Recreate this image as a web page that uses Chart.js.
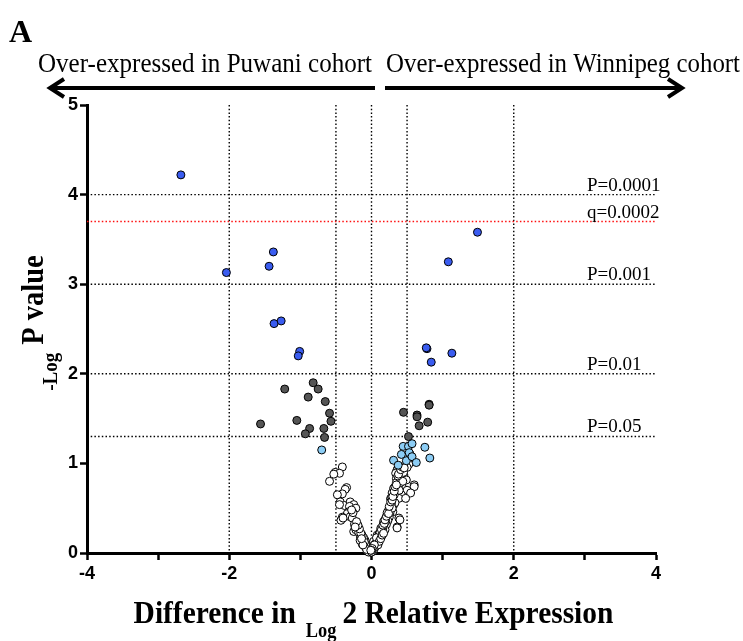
<!DOCTYPE html>
<html>
<head>
<meta charset="utf-8">
<script src="https://cdn.jsdelivr.net/npm/chart.js@4.4.1/dist/chart.umd.min.js"></script>
<style>
  html, body { margin: 0; padding: 0; background: #fff; }
  #wrap { position: relative; width: 743px; height: 641px; }
</style>
</head>
<body>
<div id="wrap"><canvas id="volcano"></canvas></div>
<script>
// [difference in log2 expression, -log10 P]
// significant after FDR (blue)
const qSigPoints = [
    [-2.68, 4.22], [-2.04, 3.13], [-1.38, 3.36], [-1.44, 3.20], [-1.37, 2.56],
    [-1.27, 2.59], [-1.01, 2.25], [-1.03, 2.20],
    [1.49, 3.58], [1.08, 3.25], [0.78, 2.28], [0.77, 2.29], [1.13, 2.23], [0.84, 2.13]
];
// P < 0.05 (dark grey)
const pSigPoints = [
    [-0.82, 1.90], [-0.75, 1.83], [-1.22, 1.83], [-0.89, 1.74], [-0.65, 1.69],
    [-0.59, 1.56], [-0.57, 1.47], [-1.05, 1.48], [-1.56, 1.44], [-0.87, 1.39],
    [-0.67, 1.39], [-0.93, 1.33], [-0.66, 1.29],
    [0.81, 1.66], [0.81, 1.65], [0.45, 1.57], [0.64, 1.54], [0.64, 1.52],
    [0.79, 1.46], [0.67, 1.42], [0.52, 1.30]
];
// 0.05 < P < 0.1 (light blue)
const trendPoints = [
    [-0.70, 1.15],
    [0.445, 1.19], [0.52, 1.19], [0.57, 1.22], [0.42, 1.10], [0.54, 1.105],
    [0.53, 1.12], [0.49, 1.03], [0.57, 1.075], [0.31, 1.035], [0.375, 0.98],
    [0.63, 1.01], [0.75, 1.18], [0.82, 1.06]
];
// not significant (open)
const otherPoints = [
    [-0.41, 0.96], [-0.51, 0.90], [-0.45, 0.89], [-0.53, 0.88], [-0.59, 0.80],
    [-0.35, 0.73], [-0.37, 0.71], [-0.41, 0.66], [-0.48, 0.65], [-0.44, 0.57],
    [-0.38, 0.53], [-0.30, 0.57], [-0.25, 0.54], [-0.45, 0.54], [-0.31, 0.52],
    [-0.22, 0.50], [-0.32, 0.46], [-0.34, 0.44], [-0.41, 0.40], [-0.43, 0.365],
    [-0.30, 0.405], [-0.27, 0.39], [-0.40, 0.39], [-0.24, 0.32], [-0.25, 0.24],
    [-0.20, 0.28], [-0.22, 0.26], [-0.18, 0.23], [-0.155, 0.18], [-0.14, 0.21],
    [-0.12, 0.15], [-0.11, 0.13], [-0.09, 0.11], [-0.10, 0.08], [-0.08, 0.06],
    [-0.06, 0.05], [-0.05, 0.03], [-0.04, 0.07], [-0.03, 0.02], [-0.02, 0.04],
    [-0.13, 0.10], [-0.16, 0.14], [-0.07, 0.10], [-0.01, 0.01],
    [-0.02, 0.02], [-0.03, 0.05], [-0.05, 0.08], [-0.06, 0.03], [-0.08, 0.09],
    [-0.09, 0.14], [-0.11, 0.17], [-0.13, 0.19], [-0.15, 0.22], [-0.17, 0.27],
    [-0.19, 0.31], [-0.21, 0.35], [-0.23, 0.29], [-0.26, 0.45], [-0.28, 0.48],
    [-0.04, 0.01], [-0.07, 0.04], [-0.10, 0.12], [-0.12, 0.09], [-0.14, 0.16],
    [0.525, 0.99], [0.50, 0.955], [0.36, 0.93], [0.36, 0.92], [0.34, 0.89],
    [0.455, 0.87], [0.35, 0.83], [0.49, 0.815], [0.38, 0.81], [0.35, 0.785],
    [0.60, 0.76], [0.60, 0.74], [0.43, 0.74], [0.31, 0.72], [0.50, 0.70],
    [0.36, 0.695], [0.29, 0.67], [0.55, 0.67], [0.42, 0.65], [0.34, 0.62],
    [0.27, 0.61], [0.385, 0.61], [0.48, 0.61], [0.27, 0.60], [0.31, 0.535],
    [0.33, 0.56], [0.24, 0.48], [0.26, 0.50], [0.30, 0.46], [0.22, 0.42],
    [0.385, 0.39], [0.40, 0.37], [0.20, 0.39], [0.25, 0.40], [0.17, 0.35],
    [0.23, 0.36], [0.36, 0.29], [0.36, 0.28], [0.13, 0.275], [0.18, 0.30],
    [0.21, 0.32], [0.15, 0.24], [0.19, 0.26], [0.08, 0.20], [0.11, 0.22],
    [0.14, 0.19], [0.06, 0.15], [0.10, 0.16], [0.03, 0.13], [0.05, 0.10],
    [0.08, 0.12], [0.02, 0.07], [0.04, 0.05], [0.01, 0.03], [0.06, 0.08],
    [0.12, 0.18], [0.16, 0.28], [0.28, 0.55], [0.32, 0.65], [0.40, 0.78],
    [0.44, 0.80], [0.45, 0.90], [0.39, 0.70], [0.26, 0.45], [0.29, 0.50],
    [0.20, 0.35],
    [0.02, 0.02], [0.03, 0.04], [0.05, 0.07], [0.07, 0.11], [0.09, 0.14],
    [0.10, 0.19], [0.12, 0.23], [0.14, 0.26], [0.16, 0.31], [0.18, 0.33],
    [0.19, 0.37], [0.21, 0.41], [0.22, 0.45], [0.24, 0.44], [0.25, 0.52],
    [0.27, 0.57], [0.29, 0.59], [0.30, 0.63], [0.32, 0.69], [0.33, 0.74],
    [0.35, 0.76], [0.37, 0.86], [0.38, 0.88], [0.41, 0.93], [0.43, 0.96],
    [0.46, 0.95], [0.07, 0.17], [0.09, 0.09], [0.11, 0.13], [0.13, 0.16],
    [0.15, 0.20], [0.17, 0.22], [0.04, 0.09], [0.01, 0.05], [0.00, 0.01],
    [0.00, 0.03], [-0.01, 0.03]
];

const foldLines = [-2, -0.5, 0, 0.5, 2];
const pLines = [0.0001, 0.001, 0.01, 0.05];
const qLine = 0.0002;
const leftLabel = 'Over-expressed in Puwani cohort';
const rightLabel = 'Over-expressed in Winnipeg cohort';

const SERIF = '"Liberation Serif", "Times New Roman", serif';
const SANS = '"Liberation Sans", Arial, sans-serif';

function toXY(list) {
    return list.map(p => ({ x: p[0], y: p[1] }));
}

// draw text squeezed to a given width
function fitText(ctx, text, x, y, font, width) {
    ctx.save();
    ctx.font = font;
    const w = ctx.measureText(text).width;
    const sx = width ? width / w : 1;
    ctx.translate(x, y);
    ctx.scale(sx, 1);
    ctx.textAlign = 'left';
    ctx.textBaseline = 'alphabetic';
    ctx.fillText(text, 0, 0);
    ctx.restore();
    return w * sx;
}

function dotted(ctx, x1, y1, x2, y2, color) {
    ctx.save();
    ctx.strokeStyle = color;
    ctx.lineWidth = 1.4;
    ctx.setLineDash([1.5, 2.2]);
    ctx.beginPath();
    ctx.moveTo(x1, y1);
    ctx.lineTo(x2, y2);
    ctx.stroke();
    ctx.restore();
}

function arrow(ctx, xFrom, xTip, y) {
    const dir = xTip < xFrom ? -1 : 1;
    ctx.save();
    ctx.strokeStyle = '#000';
    ctx.lineWidth = 4;
    ctx.lineJoin = 'miter';
    ctx.beginPath();
    ctx.moveTo(xFrom, y);
    ctx.lineTo(xTip, y);
    ctx.stroke();
    ctx.beginPath();
    ctx.moveTo(xTip - dir * 14, y - 9);
    ctx.lineTo(xTip, y);
    ctx.lineTo(xTip - dir * 14, y + 9);
    ctx.stroke();
    ctx.restore();
}

const thresholdPlugin = {
    id: 'thresholds',
    beforeDatasetsDraw(chart) {
        const { ctx, chartArea, scales } = chart;
        foldLines.forEach(v => {
            const px = scales.x.getPixelForValue(v);
            dotted(ctx, px, chartArea.top, px, chartArea.bottom, '#000');
        });
        pLines.forEach(p => {
            const py = scales.y.getPixelForValue(-Math.log10(p));
            dotted(ctx, chartArea.left, py, chartArea.right, py, '#000');
        });
        const qy = scales.y.getPixelForValue(-Math.log10(qLine));
        dotted(ctx, chartArea.left, qy, chartArea.right, qy, '#ff1010');
    },
    afterDraw(chart) {
        const { ctx, chartArea, scales } = chart;
        ctx.save();
        ctx.fillStyle = '#000';

        // threshold labels
        const labelX = chartArea.right - 69;
        pLines.forEach(p => {
            const py = scales.y.getPixelForValue(-Math.log10(p));
            fitText(ctx, 'P=' + p, labelX, py - 4, '19px ' + SERIF);
        });
        const qy = scales.y.getPixelForValue(-Math.log10(qLine));
        fitText(ctx, 'q=' + qLine, labelX, qy - 4, '19px ' + SERIF);

        // panel letter
        fitText(ctx, 'A', 9, 42, 'bold 32px ' + SERIF);

        // direction labels and arrows
        fitText(ctx, leftLabel, 38, 72, '27px ' + SERIF, 334);
        fitText(ctx, rightLabel, 386, 72, '27px ' + SERIF, 354);
        arrow(ctx, 375, 50, 88);
        arrow(ctx, 385, 682, 88);

        // x axis title with subscript
        const sq = 0.92;
        const mainFont = 'bold 32px ' + SERIF;
        const subFont = 'bold 20px ' + SERIF;
        ctx.font = mainFont;
        const w1 = ctx.measureText('Difference in').width * sq;
        const w3 = ctx.measureText('2 Relative Expression').width * sq;
        ctx.font = subFont;
        const w2 = ctx.measureText('Log').width * sq;
        const gap = 10;
        const total = w1 + gap + w2 + gap * 0.6 + w3;
        let tx = (chartArea.left + chartArea.right) / 2 - total / 2 + 2;
        const ty = 623;
        fitText(ctx, 'Difference in', tx, ty, mainFont, w1);
        tx += w1 + gap;
        fitText(ctx, 'Log', tx, ty + 14, subFont, w2);
        tx += w2 + gap * 0.6;
        fitText(ctx, '2 Relative Expression', tx, ty, mainFont, w3);

        // y axis title with subscript, rotated
        ctx.save();
        ctx.translate(43, (chartArea.top + chartArea.bottom) / 2);
        ctx.rotate(-Math.PI / 2);
        ctx.font = 'bold 31px ' + SERIF;
        const wp = ctx.measureText('P value').width * 0.92;
        ctx.font = 'bold 20px ' + SERIF;
        const wl = ctx.measureText('-Log').width * 0.95;
        const ytotal = wl + 8 + wp;
        let ry = -ytotal / 2 + 6;
        fitText(ctx, '-Log', ry, 14, 'bold 20px ' + SERIF, wl);
        ry += wl + 8;
        fitText(ctx, 'P value', ry, 0, 'bold 31px ' + SERIF, wp);
        ctx.restore();

        ctx.restore();
    }
};

function pointSet(label, list, fill) {
    return {
        label: label,
        data: toXY(list),
        backgroundColor: fill,
        borderColor: '#000',
        borderWidth: 1,
        pointRadius: 4,
        pointHoverRadius: 4,
        clip: false
    };
}

const tickFont = { family: SANS, weight: 'bold', size: 18 };

new Chart(document.getElementById('volcano'), {
    type: 'scatter',
    data: {
        datasets: [
            pointSet('q < 0.0002', qSigPoints, '#3a5cf0'),
            pointSet('P < 0.05', pSigPoints, '#555555'),
            pointSet('P < 0.1', trendPoints, '#8ccdf5'),
            pointSet('n.s.', otherPoints, '#ffffff')
        ]
    },
    options: {
        responsive: true,
        maintainAspectRatio: false,
        animation: false,
        layout: { padding: { top: 105, right: 87, left: 0, bottom: 0 } },
        plugins: {
            legend: { display: false },
            tooltip: { enabled: false }
        },
        scales: {
            x: {
                type: 'linear',
                min: -4,
                max: 4,
                afterFit(scale) { scale.height = 88; },
                border: { color: '#000', width: 3 },
                grid: {
                    drawOnChartArea: false,
                    color: '#000',
                    tickLength: 7,
                    tickWidth: 2.5
                },
                ticks: {
                    stepSize: 1,
                    color: '#000',
                    font: tickFont,
                    padding: 3,
                    maxRotation: 0,
                    callback: v => (v % 2 === 0 ? v : '')
                }
            },
            y: {
                type: 'linear',
                min: 0,
                max: 5,
                afterFit(scale) { scale.width = 87; },
                border: { color: '#000', width: 3 },
                grid: {
                    drawOnChartArea: false,
                    color: '#000',
                    tickLength: 7,
                    tickWidth: 2.5
                },
                ticks: {
                    stepSize: 1,
                    color: '#000',
                    font: tickFont,
                    padding: 2
                }
            }
        }
    },
    plugins: [thresholdPlugin]
});
</script>
</body>
</html>
